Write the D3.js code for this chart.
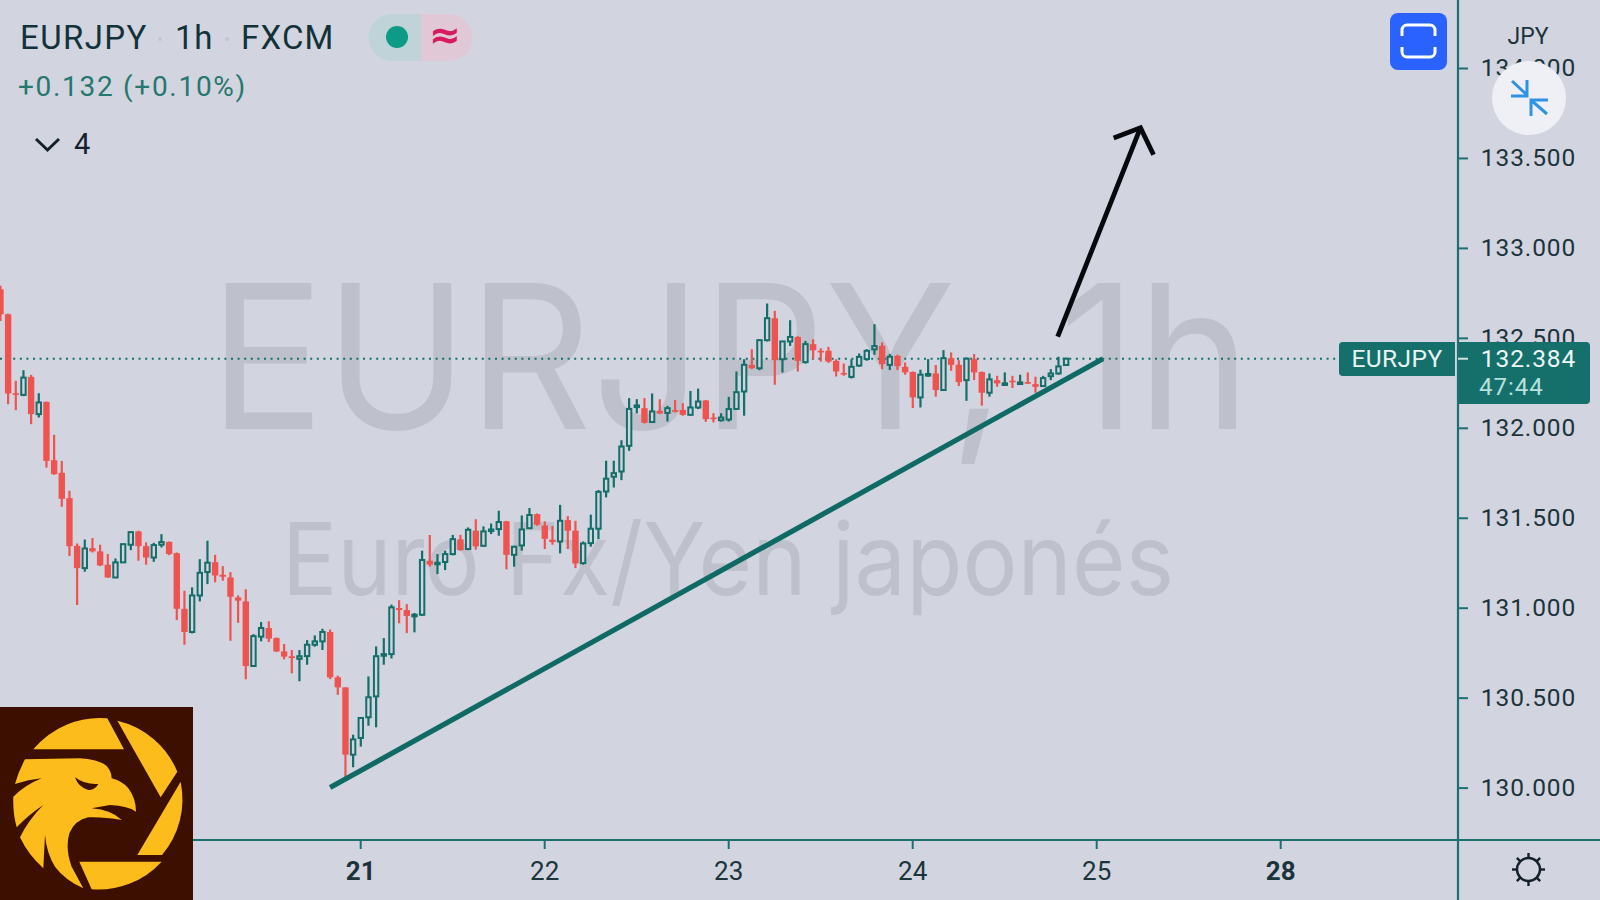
<!DOCTYPE html>
<html><head><meta charset="utf-8">
<script src="https://cdn.jsdelivr.net/npm/d3@7/dist/d3.min.js"></script>
<style>html,body{margin:0;padding:0;background:#d2d5e0;overflow:hidden}svg{display:block}text{font-family:Inter,"Noto Sans",sans-serif}</style>
</head><body><svg id="c" width="1600" height="900"></svg>
<script>
// hour offset of the first candle relative to day "21" 00:00
const firstHour = -47;
const highs = [132.789,132.635,132.261,132.320,132.294,132.192,132.146,131.961,131.816,131.650,
131.357,131.379,131.387,131.350,131.298,131.274,131.357,131.424,131.428,131.363,
131.361,131.409,131.368,131.307,131.094,131.113,131.270,131.372,131.294,131.231,
131.198,131.068,131.102,130.853,130.920,130.924,130.835,130.798,130.765,130.765,
130.820,130.846,130.883,130.879,130.622,130.557,130.294,130.387,130.618,130.785,
130.831,131.017,131.042,131.020,130.970,131.317,131.404,131.298,131.317,131.405,
131.405,131.446,131.492,131.452,131.468,131.539,131.483,131.344,131.513,131.554,
131.524,131.480,131.455,131.572,131.509,131.483,131.368,131.517,131.654,131.817,
131.817,131.931,132.165,132.159,132.165,132.191,132.159,132.122,132.154,132.137,
132.205,132.218,132.155,132.081,132.081,132.172,132.313,132.381,132.437,132.492,
132.691,132.650,132.483,132.598,132.509,132.483,132.492,132.442,132.450,132.381,
132.357,132.381,132.413,132.437,132.576,132.475,132.410,132.406,132.363,132.313,
132.323,132.382,132.349,132.432,132.419,132.376,132.391,132.410,132.313,132.302,
132.289,132.308,132.289,132.295,132.308,132.284,132.289,132.326,132.395,132.390];
const lows = [132.594,132.131,132.098,132.176,132.020,132.057,131.779,131.739,131.561,131.287,
131.015,131.200,131.307,131.231,131.166,131.168,131.250,131.320,131.261,131.239,
131.255,131.335,131.292,130.931,130.794,130.857,131.035,131.131,131.141,131.150,
130.816,130.916,130.602,130.672,130.813,130.809,130.753,130.713,130.635,130.591,
130.683,130.783,130.765,130.603,130.516,130.057,130.113,130.228,130.344,130.335,
130.683,130.718,130.913,130.859,130.863,130.954,131.228,131.187,131.209,131.291,
131.317,131.320,131.322,131.341,131.409,131.400,131.213,131.228,131.317,131.437,
131.455,131.326,131.350,131.302,131.326,131.220,131.239,131.339,131.381,131.613,
131.668,131.709,131.872,132.080,132.024,132.028,132.076,132.035,132.085,132.067,
132.070,132.104,132.033,132.030,132.035,132.035,132.104,132.067,132.326,132.320,
132.480,132.239,132.307,132.455,132.313,132.357,132.381,132.368,132.361,132.285,
132.289,132.274,132.339,132.373,132.406,132.326,132.321,132.321,132.295,132.110,
132.113,132.284,132.173,132.206,132.317,132.232,132.150,132.265,132.123,132.173,
132.228,132.239,132.221,132.243,132.243,132.195,132.228,132.265,132.295,132.345];
const opens = [132.770,132.631,132.192,132.183,132.283,132.076,132.144,131.820,131.750,131.609,
131.344,131.220,131.331,131.313,131.239,131.168,131.252,131.350,131.424,131.342,
131.279,131.350,131.366,131.303,130.994,130.865,131.068,131.198,131.253,131.183,
131.168,131.057,131.035,130.676,130.839,130.887,130.831,130.757,130.730,130.716,
130.731,130.794,130.813,130.865,130.613,130.557,130.183,130.276,130.391,130.507,
130.733,130.742,130.998,130.987,130.954,130.961,131.261,131.242,131.254,131.298,
131.380,131.326,131.428,131.344,131.428,131.437,131.480,131.294,131.346,131.442,
131.520,131.457,131.378,131.368,131.487,131.428,131.248,131.359,131.439,131.646,
131.728,131.757,131.900,132.118,132.109,132.032,132.094,132.083,132.098,132.100,
132.072,132.113,132.152,132.057,132.042,132.046,132.105,132.202,132.350,132.331,
132.487,132.609,132.381,132.480,132.505,132.365,132.465,132.428,132.428,132.372,
132.305,132.283,132.346,132.382,132.436,132.456,132.350,132.400,132.339,132.310,
132.169,132.295,132.302,132.210,132.387,132.350,132.265,132.382,132.310,132.195,
132.265,132.243,132.262,132.247,132.254,132.243,132.232,132.287,132.302,132.349];
const closes = [132.631,132.191,132.187,132.279,132.076,132.141,131.816,131.742,131.605,131.342,
131.220,131.329,131.313,131.235,131.168,131.252,131.353,131.420,131.342,131.279,
131.348,131.365,131.298,130.994,130.865,131.068,131.194,131.250,131.179,131.172,
131.061,131.039,130.676,130.842,130.887,130.828,130.757,130.728,130.720,130.730,
130.794,130.813,130.865,130.613,130.557,130.183,130.268,130.387,130.502,130.730,
130.742,131.002,130.987,130.954,130.961,131.265,131.239,131.250,131.298,131.381,
131.320,131.433,131.341,131.424,131.435,131.476,131.294,131.339,131.435,131.515,
131.461,131.383,131.365,131.483,131.428,131.246,131.357,131.439,131.644,131.717,
131.748,131.896,132.105,132.124,132.028,132.091,132.080,132.109,132.091,132.072,
132.113,132.146,132.048,132.048,132.057,132.104,132.198,132.350,132.331,132.487,
132.609,132.376,132.480,132.505,132.372,132.465,132.431,132.420,132.368,132.313,
132.298,132.339,132.394,132.428,132.454,132.354,132.395,132.343,132.308,132.169,
132.295,132.299,132.210,132.387,132.350,132.254,132.384,132.308,132.195,132.269,
132.247,132.247,132.256,132.252,132.247,132.228,132.276,132.302,132.341,132.384];
const priceTicks = [130,130.5,131,131.5,132,132.5,133,133.5,134];
const timeTickHours = [0,24,48,72,96,120];
const timeTickLabels = ["21","22","23","24","25","28"];
const boldTickLabels = ["21","28"];
const lastPrice = 132.384;
const trendHours = [-4.0,96.8], trendPrices = [130,132.384];
const arrowHours = [90.9,101.7], arrowPrices = [132.507,133.668];
const arrowHeadHours = [98.2,101.7,103.4], arrowHeadPrices = [133.611,133.668,133.518];

const BG="#d2d5e0",TEAL="#146e69",RED="#ef5350",AX="#1d6f72",INK="#1b343c";
const svg=d3.select("#c");
svg.append("rect").attr("width",1600).attr("height",900).attr("fill",BG);
const x=d3.scaleLinear().domain([-47,120]).range([0.45,1280.8]);
const y=d3.scaleLinear().domain([130,134]).range([787.6,68]);

// watermark
svg.append("text").attr("x",209).attr("y",429).attr("font-size",200).attr("fill","#bec1cb").attr("textLength",1042).attr("lengthAdjust","spacingAndGlyphs").text("EURJPY, 1h");
svg.append("text").attr("x",282).attr("y",595).attr("font-size",100).attr("fill","#bec1cb").attr("textLength",892).attr("lengthAdjust","spacingAndGlyphs").text("Euro Fx/Yen japonés");

svg.append("defs").append("clipPath").attr("id","plot").append("rect").attr("width",1458).attr("height",840);
const plot=svg.append("g").attr("clip-path","url(#plot)");

// last price line
plot.append("line").attr("x1",0).attr("x2",1340).attr("y1",y(lastPrice)).attr("y2",y(lastPrice))
 .attr("stroke",TEAL).attr("stroke-width",2).attr("stroke-dasharray","2 4.6");

// candles
const candles=d3.range(opens.length).map(i=>({h:firstHour+i,o:opens[i],c:closes[i],hi:highs[i],lo:lows[i],up:closes[i]>=opens[i]}));
const W=6.4;
const cg=plot.append("g").selectAll("g").data(candles).join("g");
cg.append("line").attr("x1",d=>x(d.h)).attr("x2",d=>x(d.h)).attr("y1",d=>y(d.hi)).attr("y2",d=>y(d.lo))
 .attr("stroke",d=>d.up?TEAL:RED).attr("stroke-width",2.2);
cg.append("rect").attr("x",d=>x(d.h)-(d.up?W/2-1:W/2)).attr("width",d=>d.up?W-2:W)
 .attr("y",d=>y(Math.max(d.o,d.c))).attr("height",d=>Math.max(1.6,Math.abs(y(d.o)-y(d.c))))
 .attr("fill",d=>d.up?BG:RED).attr("stroke",d=>d.up?TEAL:"none").attr("stroke-width",2);
// trend line and arrow
const ln=d3.line().x(d=>x(d[0])).y(d=>y(d[1]));
plot.append("path").attr("d",ln(d3.zip(trendHours,trendPrices))).attr("fill","none").attr("stroke","#0f6a65").attr("stroke-width",5.2);
plot.append("path").attr("d",ln(d3.zip(arrowHours,arrowPrices))).attr("fill","none").attr("stroke","#08090c").attr("stroke-width",4.8);
plot.append("path").attr("d",ln(d3.zip(arrowHeadHours,arrowHeadPrices))).attr("fill","none").attr("stroke","#08090c").attr("stroke-width",4.8);

// axes
const yAxis=d3.axisRight(y).tickValues(priceTicks).tickFormat(d3.format(".3f")).tickSize(10).tickPadding(0);
const gy=svg.append("g").attr("transform","translate(1458,0)").call(yAxis);
gy.select(".domain").remove();
gy.selectAll("line").attr("stroke",AX).attr("stroke-width",2);
gy.selectAll("text").attr("x",70.5).attr("text-anchor","middle").attr("font-size",24.5).attr("letter-spacing",0.9).attr("fill",INK).attr("style","font-family:Roboto");
const xAxis=d3.axisBottom(x).tickValues(timeTickHours).tickFormat((d,i)=>timeTickLabels[i]).tickSize(9).tickPadding(0);
const gx=svg.append("g").attr("transform","translate(-0.6,840)").call(xAxis);
gx.select(".domain").remove();
gx.selectAll("line").attr("stroke",AX).attr("stroke-width",2);
gx.selectAll("text").attr("y",40).attr("dy",0).attr("font-size",26).attr("fill",INK).attr("style","font-family:Roboto")
 .attr("font-weight",(d,i)=>boldTickLabels.includes(timeTickLabels[i])?700:400);
svg.append("line").attr("x1",0).attr("x2",1600).attr("y1",840).attr("y2",840).attr("stroke",AX).attr("stroke-width",2.2);
svg.append("line").attr("x1",1458).attr("x2",1458).attr("y1",0).attr("y2",900).attr("stroke",AX).attr("stroke-width",2.2);

// currency
svg.append("text").attr("x",1528).attr("y",44).attr("text-anchor","middle").attr("font-size",23).attr("fill",INK).attr("style","font-family:Roboto").text("JPY");

// price label
const lbl=svg.append("g");
lbl.append("path").attr("d","M1455 342H1343a4 4 0 0 0-4 4V372a4 4 0 0 0 4 4H1455Z").attr("fill","#156f6b");
lbl.append("path").attr("d","M1459 342H1586a4 4 0 0 1 4 4V400a4 4 0 0 1-4 4H1459Z").attr("fill","#156f6b");
lbl.append("line").attr("x1",1458).attr("x2",1468).attr("y1",y(lastPrice)).attr("y2",y(lastPrice)).attr("stroke","#cfe3e2").attr("stroke-width",2);
lbl.append("text").attr("x",1397).attr("y",367).attr("text-anchor","middle").attr("font-size",24.5).attr("letter-spacing",0.4).attr("fill","#e9f4f3").attr("style","font-family:Roboto").text("EURJPY");
lbl.append("text").attr("x",1528.5).attr("y",367).attr("text-anchor","middle").attr("font-size",24.5).attr("letter-spacing",0.9).attr("fill","#eef7f6").attr("style","font-family:Roboto").text("132.384");
lbl.append("text").attr("x",1479).attr("y",395).attr("font-size",24).attr("letter-spacing",1).attr("fill","#b9e0dd").attr("style","font-family:Roboto").text("47:44");

// header
const hd=svg.append("g");
const headItems=[["EURJPY",20,1.4],["1h",175,0.8],["FXCM",241,1.2]];
hd.selectAll("text.h").data(headItems).join("text").attr("class","h").attr("x",d=>d[1]).attr("y",49).attr("font-size",33).attr("letter-spacing",d=>d[2]).attr("fill","#12323a").attr("style","font-family:Roboto").text(d=>d[0]);
hd.selectAll("circle.sep").data([160,227]).join("circle").attr("class","sep").attr("cx",d=>d).attr("cy",39).attr("r",2).attr("fill","#c2c6d0");
hd.append("path").attr("d","M421 14H392a23.5 23.5 0 0 0 0 47H421Z").attr("fill","#bfd3d9");
hd.append("path").attr("d","M421 14H449a23.5 23.5 0 0 1 0 47H421Z").attr("fill","#e0c8d6");
hd.append("circle").attr("cx",397).attr("cy",37).attr("r",11).attr("fill","#0d9b85");
hd.append("text").attr("x",445).attr("y",48).attr("text-anchor","middle").attr("font-size",38).attr("font-weight",700).attr("fill","#d81b60").attr("style","font-family:'DejaVu Sans'").text("≈");
hd.append("text").attr("x",18).attr("y",96).attr("font-size",28).attr("letter-spacing",1.7).attr("fill","#26776f").attr("style","font-family:Roboto").text("+0.132 (+0.10%)");
hd.append("path").attr("d","M36 139L47.5 150L59 139").attr("fill","none").attr("stroke","#14202c").attr("stroke-width",3);
hd.append("text").attr("x",74).attr("y",154).attr("font-size",29).attr("fill","#14202c").attr("style","font-family:Roboto").text("4");

// blue button
svg.append("rect").attr("x",1390).attr("y",13).attr("width",57).attr("height",57).attr("rx",8).attr("fill","#2962ff");
svg.append("path").attr("d","M1402 36V30a5 5 0 0 1 5-5H1430a5 5 0 0 1 5 5V36M1402 47V52a5 5 0 0 0 5 5H1430a5 5 0 0 0 5-5V47").attr("fill","none").attr("stroke","#fff").attr("stroke-width",3);

// compress button
svg.append("circle").attr("cx",1529).attr("cy",98).attr("r",37).attr("fill","#eef0f6");
svg.append("path").attr("d","M1512 81L1527 95M1527 80V96H1511M1547 114L1532 101M1531 116V100H1548").attr("fill","none").attr("stroke","#2f93e3").attr("stroke-width",3);

// gear
const gear=svg.append("g").attr("transform","translate(1528.5,869.5)").attr("fill","none").attr("stroke","#14202c");
gear.append("circle").attr("r",11.5).attr("stroke-width",2.4);
gear.selectAll("line").data(d3.range(8)).join("line").attr("x1",0).attr("x2",0).attr("y1",11.5).attr("y2",16.5).attr("stroke-width",2.4).attr("transform",d=>`rotate(${d*45})`);

// logo
const lg=svg.append("g");
lg.append("rect").attr("x",0).attr("y",707).attr("width",193).attr("height",193).attr("fill","#3d0f00");
const L=lg.append("g").attr("transform","translate(0,700) scale(0.3333)");
const gold="#fcbc1c";
L.append("path").attr("fill",gold).attr("d","M100 148A258 258 0 0 1 322 55L372 148Z");
L.append("path").attr("fill",gold).attr("d","M352 62A258 258 0 0 1 532 215L482 292Z");
L.append("path").attr("fill",gold).attr("d","M542 245A258 258 0 0 1 486 465L412 465Z");
L.append("path").attr("fill",gold).attr("d","M238 485L485 485A258 258 0 0 1 275 568Z");
L.append("path").attr("fill",gold).attr("d","M75 178L240 175Q300 180 320 198Q335 215 335 235Q370 245 385 265Q408 295 408 335Q385 318 330 315L275 325Q335 330 365 360Q310 350 265 352Q225 360 208 400Q195 445 215 500L250 565Q195 540 165 500Q140 460 135 405L130 505Q85 465 60 412Q85 360 130 315Q85 345 50 382Q38 340 40 290Q75 255 125 235Q85 238 45 252Q55 215 75 178Z");
L.append("path").attr("fill","#3d0f00").attr("d","M225 232Q255 255 295 252Q285 270 265 270Q235 262 225 232Z");
</script></body></html>
